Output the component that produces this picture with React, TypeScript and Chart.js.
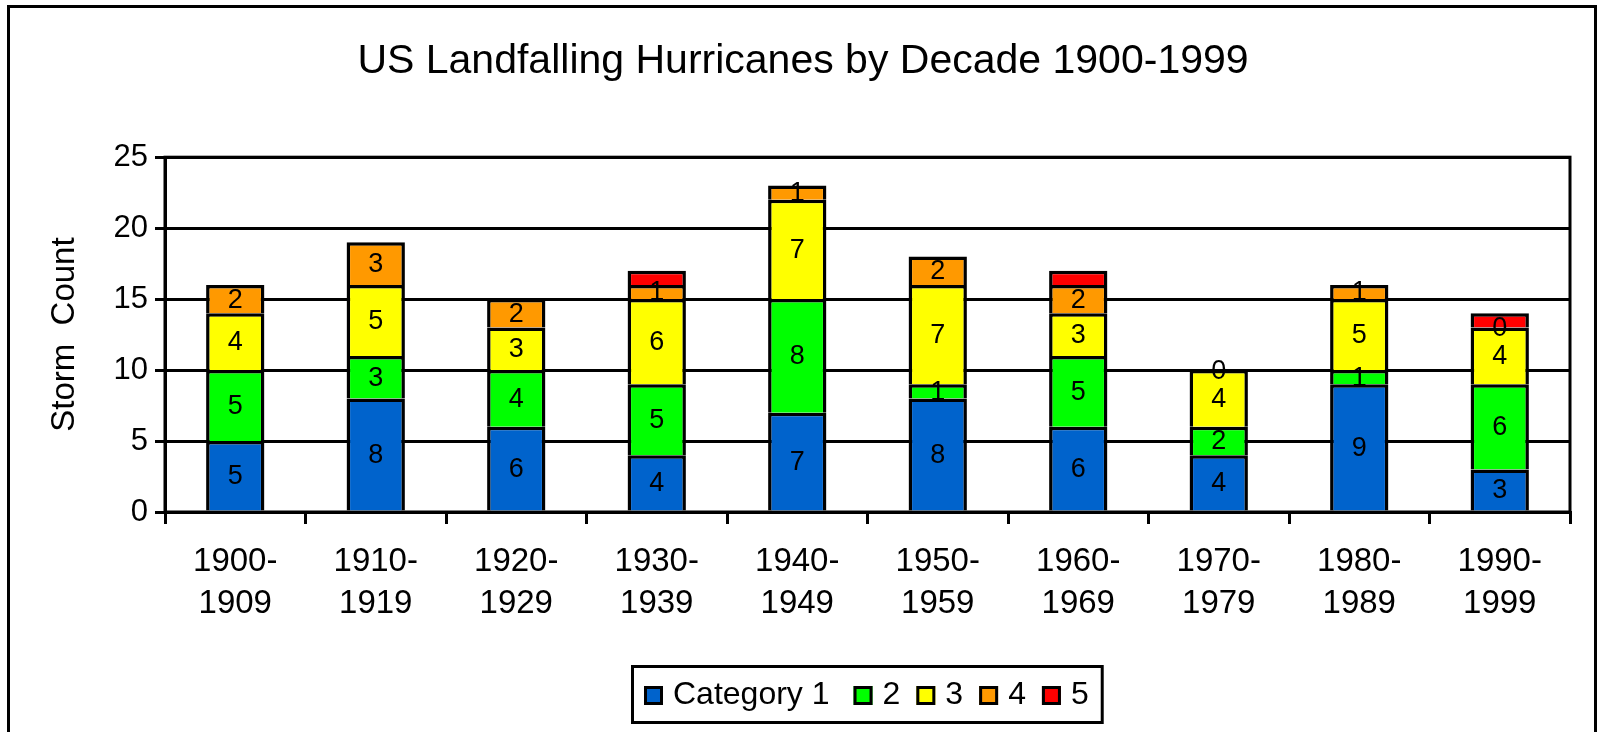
import React, { useEffect, useRef } from "react";
import { Chart, registerables } from "chart.js";

Chart.register(...registerables);

const chartTitle = "US Landfalling Hurricanes by Decade 1900-1999";
const yAxisTitle = "Storm  Count";
const decades: string[][] = [
  ["1900-", "1909"],
  ["1910-", "1919"],
  ["1920-", "1929"],
  ["1930-", "1939"],
  ["1940-", "1949"],
  ["1950-", "1959"],
  ["1960-", "1969"],
  ["1970-", "1979"],
  ["1980-", "1989"],
  ["1990-", "1999"],
];
const category1 = [5, 8, 6, 4, 7, 8, 6, 4, 9, 3];
const category2 = [5, 3, 4, 5, 8, 1, 5, 2, 1, 6];
const category3 = [4, 5, 3, 6, 7, 7, 3, 4, 5, 4];
const category4 = [2, 3, 2, 1, 1, 2, 2, 0, 1, 0];
const category5 = [0, 0, 0, 1, 0, 0, 1, 0, 0, 1];
const seriesLabels = ["Category 1", "2", "3", "4", "5"];
const seriesColors = ["#0063CC", "#00FF00", "#FFFF00", "#FF9900", "#FF0000"];
const labelledSeries = [true, true, true, true, false];
const yMin = 0;
const yMax = 25;
const yStep = 5;

const FONT = "'Liberation Sans', Arial, Helvetica, sans-serif";

const framePlugin = {
  id: "frame",
  beforeDraw(chart: any) {
    const ctx = chart.ctx;
    ctx.save();
    ctx.fillStyle = "#FFFFFF";
    ctx.fillRect(0, 0, chart.width, chart.height);
    ctx.strokeStyle = "#000000";
    ctx.lineWidth = 3;
    ctx.beginPath();
    ctx.moveTo(8.5, chart.height + 5);
    ctx.lineTo(8.5, 6.5);
    ctx.lineTo(chart.width - 5.5, 6.5);
    ctx.lineTo(chart.width - 5.5, chart.height + 5);
    ctx.stroke();
    ctx.restore();
  },
};

const plotBorderPlugin = {
  id: "plotBorder",
  beforeDatasetsDraw(chart: any) {
    const { ctx, chartArea } = chart;
    ctx.save();
    ctx.strokeStyle = "#000000";
    ctx.lineWidth = 3;
    ctx.strokeRect(
      chartArea.left,
      chartArea.top,
      chartArea.right - chartArea.left,
      chartArea.bottom - chartArea.top
    );
    ctx.restore();
  },
};

const valueLabelPlugin = {
  id: "valueLabels",
  afterDatasetsDraw(chart: any) {
    const ctx = chart.ctx;
    ctx.save();
    ctx.fillStyle = "#000000";
    ctx.font = `27px ${FONT}`;
    ctx.textAlign = "center";
    ctx.textBaseline = "middle";
    chart.data.datasets.forEach((ds: any, i: number) => {
      if (!labelledSeries[i]) return;
      const meta = chart.getDatasetMeta(i);
      meta.data.forEach((bar: any, j: number) => {
        const p = bar.getProps(["x", "y", "base"], true);
        const v = ds.data[j];
        ctx.fillText(String(v), p.x, (p.y + p.base) / 2 + 1);
      });
    });
    ctx.restore();
  },
};

const legendBoxPlugin = {
  id: "legendBox",
  afterDraw(chart: any) {
    const ctx = chart.ctx;
    const { chartArea } = chart;
    ctx.save();
    ctx.font = `32px ${FONT}`;
    ctx.textBaseline = "middle";
    ctx.textAlign = "left";
    const sw = 19;
    const gapText = 10;
    const gapItems = [24, 16, 16, 16];
    const padL = 13;
    const padR = 15;
    const widths = seriesLabels.map((l) => ctx.measureText(l).width);
    let inner = 0;
    widths.forEach((w, i) => {
      inner += sw + gapText + w + (i < widths.length - 1 ? gapItems[i] : 0);
    });
    const boxW = padL + inner + padR;
    const boxH = 59;
    const cx = (chartArea.left + chartArea.right) / 2;
    const left = Math.round(cx - boxW / 2);
    const top = chartArea.bottom + 153;
    ctx.strokeStyle = "#000000";
    ctx.lineWidth = 3;
    ctx.strokeRect(left + 1.5, top + 1.5, boxW - 3, boxH - 3);
    const cy = top + boxH / 2 + 1;
    let x = left + padL;
    chart.data.datasets.forEach((ds: any, i: number) => {
      ctx.fillStyle = ds.backgroundColor;
      ctx.fillRect(x, Math.round(cy - sw / 2), sw, sw);
      ctx.lineWidth = 3;
      ctx.strokeStyle = "#000000";
      ctx.strokeRect(x + 1.5, Math.round(cy - sw / 2) + 1.5, sw - 3, sw - 3);
      ctx.fillStyle = "#000000";
      ctx.fillText(seriesLabels[i], x + sw + gapText, cy);
      x += sw + gapText + widths[i] + (i < gapItems.length ? gapItems[i] : 0);
    });
    ctx.restore();
  },
};

export default function App() {
  const canvasRef = useRef<HTMLCanvasElement | null>(null);

  useEffect(() => {
    if (!canvasRef.current) return;
    const seriesData = [category1, category2, category3, category4, category5];
    const chart = new Chart(canvasRef.current, {
      type: "bar",
      data: {
        labels: decades,
        datasets: seriesData.map((d, i) => ({
          label: seriesLabels[i],
          data: d,
          backgroundColor: seriesColors[i],
          borderColor: "#000000",
          borderWidth: 3.5,
          inflateAmount: 0,
          categoryPercentage: 0.415,
          barPercentage: 1.0,
        })),
      },
      options: {
        animation: false,
        responsive: false,
        maintainAspectRatio: false,
        events: [],
        layout: { padding: { left: 36, right: 31, top: 0, bottom: 0 } },
        plugins: {
          legend: { display: false },
          tooltip: { enabled: false },
          title: {
            display: true,
            text: chartTitle,
            color: "#000000",
            font: { family: FONT, size: 41, weight: "normal" },
            padding: { top: 37, bottom: 71 },
          },
        },
        scales: {
          x: {
            stacked: true,
            offset: true,
            grid: {
              display: true,
              offset: true,
              drawOnChartArea: false,
              drawTicks: true,
              tickLength: 12,
              color: "#000000",
              lineWidth: 3,
            },
            border: { display: true, color: "#000000", width: 3 },
            ticks: {
              color: "#000000",
              padding: 17,
              maxRotation: 0,
              autoSkip: false,
              font: { family: FONT, size: 33, lineHeight: 1.27 },
            },
            afterFit(scale: any) {
              scale.height = 220;
            },
          },
          y: {
            stacked: true,
            min: yMin,
            max: yMax,
            ticks: {
              stepSize: yStep,
              color: "#000000",
              padding: 7,
              font: { family: FONT, size: 31 },
            },
            grid: {
              color: "#000000",
              lineWidth: 3,
              tickLength: 10,
              drawTicks: true,
            },
            border: { display: true, color: "#000000", width: 3 },
            title: {
              display: true,
              text: yAxisTitle,
              color: "#000000",
              font: { family: FONT, size: 33 },
              padding: { top: 9, bottom: 0 },
            },
            afterFit(scale: any) {
              scale.width = 129;
            },
          },
        },
      },
      plugins: [framePlugin, plotBorderPlugin, valueLabelPlugin, legendBoxPlugin],
    });
    return () => chart.destroy();
  }, []);

  return (
    <div
      style={{
        position: "fixed",
        left: 0,
        top: 0,
        width: 1601,
        height: 732,
        background: "#FFFFFF",
      }}
    >
      <canvas ref={canvasRef} width={1601} height={732} style={{ width: 1601, height: 732, display: "block" }} />
    </div>
  );
}
